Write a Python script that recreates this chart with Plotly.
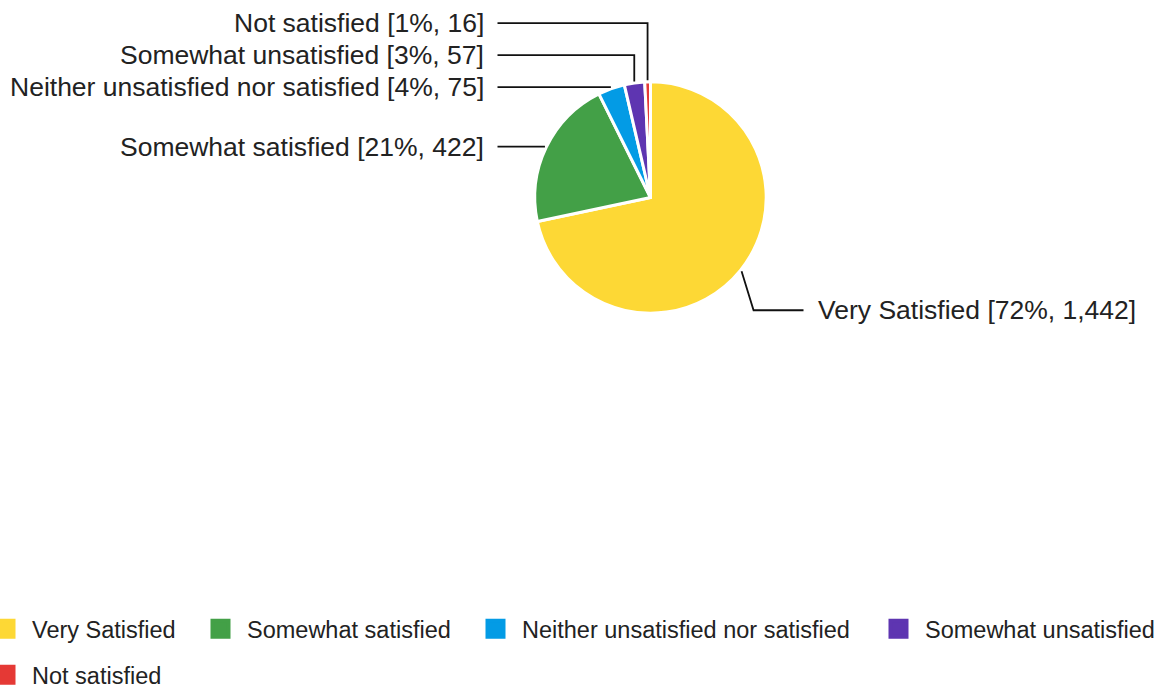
import math
import plotly.graph_objects as go

# ---------------- data ----------------
categories = [
    "Very Satisfied",
    "Somewhat satisfied",
    "Neither unsatisfied nor satisfied",
    "Somewhat unsatisfied",
    "Not satisfied",
]
counts = [1442, 422, 75, 57, 16]
colors = ["#FDD835", "#43A047", "#039BE5", "#5E35B1", "#E53935"]

# ---------------- layout constants (pixels) ----------------
W, H = 1162, 685
CX, CY = 650.5, 197.5          # pie centre
R_VIS = 114.2                   # visible radius
BORDER = 3                      # white slice border
R_DOM = R_VIS + BORDER / 2      # radius of the pie domain
R_ANCHOR = R_VIS + 3            # where leader lines touch the pie
LINE_REACH = 153                # horizontal distance of line ends from centre
TEXT_GAP = 12                   # gap between line end and label text
LABEL_SPACING = 32              # min vertical spacing between labels
RIGHT_DROP = 39                 # right-side label drop below anchor
RIGHT_KNEE_DX = 12
FONT = "Liberation Sans, Arial, sans-serif"
TEXT_COLOR = "#222222"
LINE_COLOR = "#111111"
LABEL_SIZE = 26.5
LEGEND_SIZE = 23.5
LEGEND_ITEMWIDTH = 43
LEGEND_TEXT_OFFSET = LEGEND_ITEMWIDTH + 10   # legend text start relative to legend origin
# legend entries: (left edge of entry text, vertical centre)
legend_slots = [(32, 629), (247, 629), (522, 629), (925, 629), (32, 675)]

total = sum(counts)
label_texts = [f"{c} [{round(100 * n / total)}%, {n:,}]" for c, n in zip(categories, counts)]

fig = go.Figure()

fig.add_trace(go.Pie(
    labels=categories,
    values=counts,
    sort=False,
    direction="clockwise",
    rotation=0,
    marker=dict(colors=colors, line=dict(color="white", width=BORDER)),
    textinfo="none",
    hoverinfo="label+value+percent",
    showlegend=False,
    domain=dict(
        x=[(CX - R_DOM) / W, (CX + R_DOM) / W],
        y=[1 - (CY + R_DOM) / H, 1 - (CY - R_DOM) / H],
    ),
))

# legend entries (one legend per entry so each can be placed like the original)
for i, (cat, col) in enumerate(zip(categories, colors)):
    lid = "legend" if i == 0 else f"legend{i + 1}"
    fig.add_trace(go.Scatter(
        x=[None], y=[None], mode="markers", name=cat,
        marker=dict(symbol="square", size=16, color=col, line=dict(color=col, width=4)),
        legend=lid, showlegend=True, hoverinfo="skip",
    ))

# ---------------- leader lines and labels ----------------
anchors = []
cum = 0
for n in counts:
    theta = math.radians(360 * (cum + n / 2) / total)
    cum += n
    ax = CX + R_ANCHOR * math.sin(theta)
    ay = CY - R_ANCHOR * math.cos(theta)
    anchors.append((ax, ay, math.sin(theta) >= 0))

# left-side labels: desired y = anchor y, pushed apart upward from the bottom
left_idx = sorted([i for i, a in enumerate(anchors) if not a[2]], key=lambda i: -anchors[i][1])
label_y = {}
prev = None
for i in left_idx:
    y = anchors[i][1]
    if prev is not None:
        y = min(y, prev - LABEL_SPACING)
    label_y[i] = y
    prev = y

shapes = []
annotations = []
for i, (ax, ay, right) in enumerate(anchors):
    if right:
        ly = ay + RIGHT_DROP
        kx = ax + RIGHT_KNEE_DX
        ex = CX + LINE_REACH
        tx = ex + TEXT_GAP
        xanchor = "left"
    else:
        ly = label_y[i]
        kx = ax
        ex = CX - LINE_REACH
        tx = ex - TEXT_GAP
        xanchor = "right"
    shapes.append(dict(
        type="path", xref="x", yref="y",
        path=f"M {ax:.2f},{ay:.2f} L {kx:.2f},{ly:.2f} L {ex:.2f},{ly:.2f}",
        line=dict(color=LINE_COLOR, width=1.8),
    ))
    annotations.append(dict(
        x=tx, y=ly, xref="x", yref="y", text=label_texts[i], showarrow=False,
        xanchor=xanchor, yanchor="middle",
        font=dict(family=FONT, size=LABEL_SIZE, color=TEXT_COLOR),
    ))

legend_layout = {}
for i, (lx, ly) in enumerate(legend_slots):
    lid = "legend" if i == 0 else f"legend{i + 1}"
    legend_layout[lid] = dict(
        x=(lx - LEGEND_TEXT_OFFSET) / W, y=1 - ly / H, xanchor="left", yanchor="middle",
        orientation="h", bgcolor="rgba(0,0,0,0)", borderwidth=0,
        itemwidth=LEGEND_ITEMWIDTH,
        font=dict(family=FONT, size=LEGEND_SIZE, color=TEXT_COLOR),
    )

fig.update_layout(
    width=W, height=H,
    margin=dict(l=0, r=0, t=0, b=0, autoexpand=False),
    paper_bgcolor="white", plot_bgcolor="white",
    xaxis=dict(visible=False, range=[0, W], fixedrange=True),
    yaxis=dict(visible=False, range=[H, 0], fixedrange=True),
    shapes=shapes,
    annotations=annotations,
    font=dict(family=FONT, color=TEXT_COLOR),
    **legend_layout,
)

# the page is shown edge to edge, like the original screenshot
fig.write_html(
    "out.html",
    config={"displayModeBar": False},
    post_script="document.body.style.margin = '0';",
)
